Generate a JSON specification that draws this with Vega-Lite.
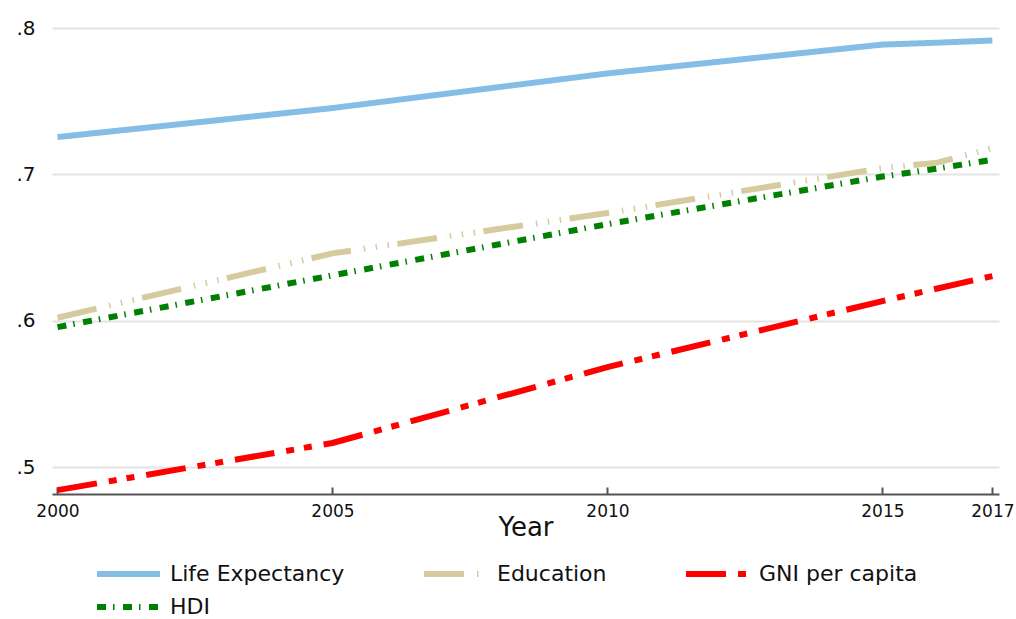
{
  "$schema": "https://vega.github.io/schema/vega-lite/v6.json",
  "width": 947,
  "height": 486,
  "autosize": "none",
  "padding": {"left": 52, "top": 8, "right": 17, "bottom": 125},
  "background": "white",
  "config": {"view": {"stroke": null}, "font": "DejaVu Sans"},
  "data": {
    "values": [
      {"series": "Life Expectancy", "year": 2000, "value": 0.7255},
      {"series": "Life Expectancy", "year": 2005, "value": 0.7453},
      {"series": "Life Expectancy", "year": 2010, "value": 0.769},
      {"series": "Life Expectancy", "year": 2015, "value": 0.7887},
      {"series": "Life Expectancy", "year": 2016, "value": 0.790},
      {"series": "Life Expectancy", "year": 2017, "value": 0.7915},
      {"series": "Education", "year": 2000, "value": 0.602},
      {"series": "Education", "year": 2005, "value": 0.646},
      {"series": "Education", "year": 2010, "value": 0.6736},
      {"series": "Education", "year": 2015, "value": 0.7043},
      {"series": "Education", "year": 2016, "value": 0.708},
      {"series": "Education", "year": 2017, "value": 0.718},
      {"series": "GNI per capita", "year": 2000, "value": 0.4842},
      {"series": "GNI per capita", "year": 2005, "value": 0.5164},
      {"series": "GNI per capita", "year": 2010, "value": 0.5683},
      {"series": "GNI per capita", "year": 2015, "value": 0.6134},
      {"series": "GNI per capita", "year": 2016, "value": 0.622},
      {"series": "GNI per capita", "year": 2017, "value": 0.6305},
      {"series": "HDI", "year": 2000, "value": 0.5956},
      {"series": "HDI", "year": 2005, "value": 0.631},
      {"series": "HDI", "year": 2010, "value": 0.666},
      {"series": "HDI", "year": 2015, "value": 0.6985},
      {"series": "HDI", "year": 2016, "value": 0.704},
      {"series": "HDI", "year": 2017, "value": 0.710}
    ]
  },
  "mark": {"type": "line", "strokeWidth": 6},
  "encoding": {
    "x": {
      "field": "year",
      "type": "quantitative",
      "scale": {"domain": [1999.9, 2017.12], "nice": false, "zero": false},
      "axis": {
        "values": [2000, 2005, 2010, 2015, 2017],
        "format": "d",
        "title": "Year",
        "grid": false,
        "domainColor": "#555555",
        "domainWidth": 2,
        "tickColor": "#555555",
        "tickWidth": 2,
        "tickSize": -7,
        "labelFontSize": 17,
        "labelColor": "#111111",
        "labelPadding": 16,
        "titleFontSize": 26,
        "titleFontWeight": "normal",
        "titlePadding": -5,
        "titleColor": "#111111"
      }
    },
    "y": {
      "field": "value",
      "type": "quantitative",
      "scale": {"domain": [0.48155, 0.8137], "nice": false, "zero": false},
      "axis": {
        "values": [0.5, 0.6, 0.7, 0.8],
        "labelExpr": "substring(format(datum.value, '.1f'), 1)",
        "title": null,
        "domain": false,
        "ticks": false,
        "grid": true,
        "gridColor": "#e3e3e3",
        "gridWidth": 2,
        "labelFontSize": 20,
        "labelPadding": 17,
        "labelColor": "#111111"
      }
    },
    "color": {
      "field": "series",
      "type": "nominal",
      "scale": {
        "domain": ["Life Expectancy", "Education", "GNI per capita", "HDI"],
        "range": ["#85BDE6", "#D6CB9E", "#FF0000", "#008000"]
      },
      "legend": {
        "orient": "none",
        "legendX": 42,
        "legendY": 555,
        "direction": "horizontal",
        "columns": 3,
        "title": null,
        "symbolType": "stroke",
        "symbolSize": 3969,
        "symbolStrokeWidth": 6,
        "labelFontSize": 22,
        "labelOffset": 7,
        "labelLimit": 400,
        "labelColor": "#111111",
        "columnPadding": 76,
        "rowPadding": 11,
        "clipHeight": 22,
        "padding": 0
      }
    },
    "strokeDash": {
      "field": "series",
      "type": "nominal",
      "scale": {
        "domain": ["Life Expectancy", "Education", "GNI per capita", "HDI"],
        "range": [[1, 0], [40, 13, 1.5, 10.5, 1.5, 10.5, 1.5, 8.5], [40, 12, 8, 10, 8, 12], [9, 7, 1.5, 8.5]]
      },
      "legend": {
        "orient": "none",
        "legendX": 42,
        "legendY": 555,
        "direction": "horizontal",
        "columns": 3,
        "title": null,
        "symbolType": "stroke",
        "symbolSize": 3969,
        "symbolStrokeWidth": 6,
        "labelFontSize": 22,
        "labelOffset": 7,
        "labelLimit": 400,
        "labelColor": "#111111",
        "columnPadding": 76,
        "rowPadding": 11,
        "clipHeight": 22,
        "padding": 0
      }
    }
  }
}
